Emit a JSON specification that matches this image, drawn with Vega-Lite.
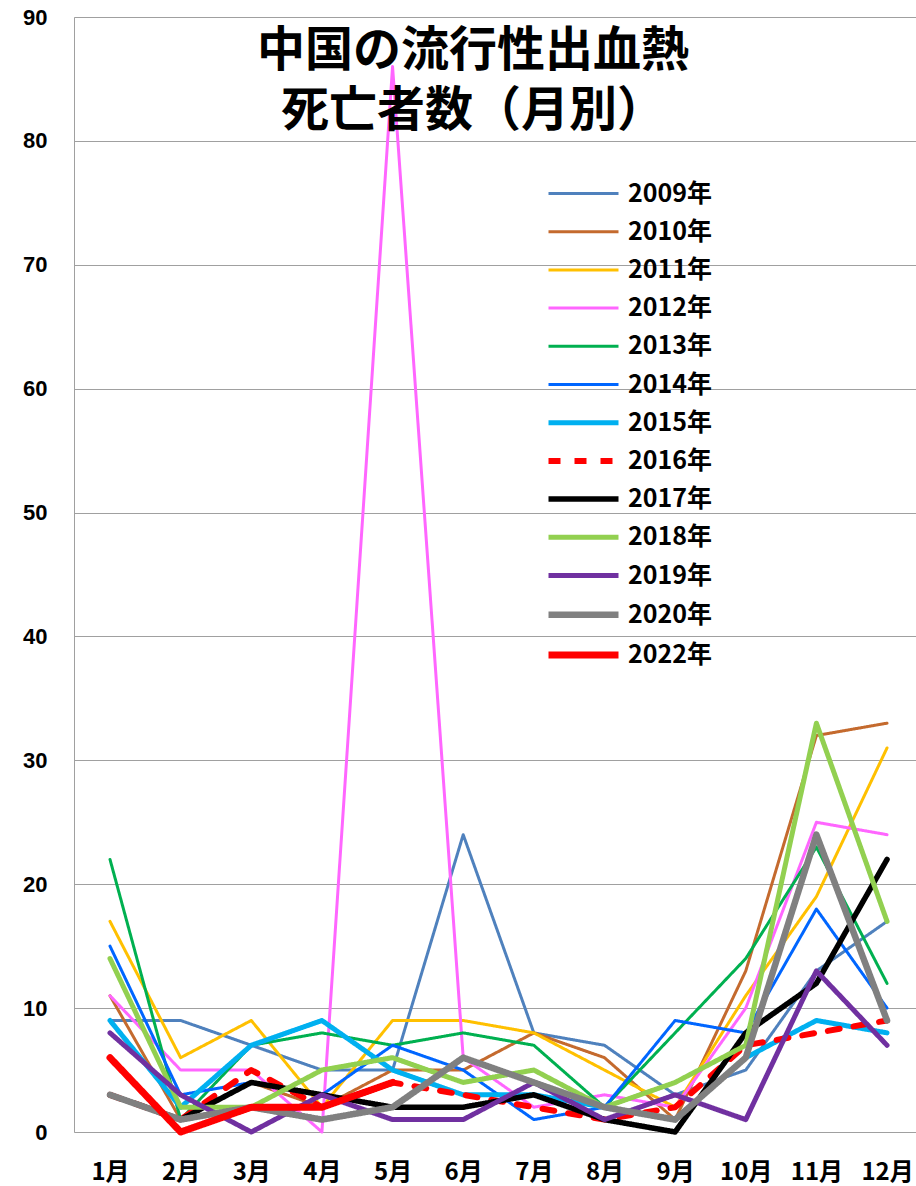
{
  "$schema": "https://vega.github.io/schema/vega-lite/v6.json",
  "autosize": "none",
  "width": 842,
  "height": 1115,
  "padding": {"left": 74, "top": 17, "right": 0, "bottom": 54},
  "background": "white",
  "title": {
    "text": ["中国の流行性出血熱", "死亡者数（月別）"],
    "font": "Noto Sans CJK JP",
    "fontSize": 48,
    "fontWeight": "bold",
    "color": "black",
    "lineHeight": 60,
    "anchor": "middle",
    "frame": "group",
    "baseline": "top",
    "offset": 0,
    "dx": -22,
    "dy": 130
  },
  "datasets": {
    "d": [
      {"y":"2009年","m":1,"v":9},{"y":"2009年","m":2,"v":9},{"y":"2009年","m":3,"v":7},{"y":"2009年","m":4,"v":5},{"y":"2009年","m":5,"v":5},{"y":"2009年","m":6,"v":24},{"y":"2009年","m":7,"v":8},{"y":"2009年","m":8,"v":7},{"y":"2009年","m":9,"v":3},{"y":"2009年","m":10,"v":5},{"y":"2009年","m":11,"v":13},{"y":"2009年","m":12,"v":17},
      {"y":"2010年","m":1,"v":11},{"y":"2010年","m":2,"v":1},{"y":"2010年","m":3,"v":4},{"y":"2010年","m":4,"v":2},{"y":"2010年","m":5,"v":5},{"y":"2010年","m":6,"v":5},{"y":"2010年","m":7,"v":8},{"y":"2010年","m":8,"v":6},{"y":"2010年","m":9,"v":1},{"y":"2010年","m":10,"v":13},{"y":"2010年","m":11,"v":32},{"y":"2010年","m":12,"v":33},
      {"y":"2011年","m":1,"v":17},{"y":"2011年","m":2,"v":6},{"y":"2011年","m":3,"v":9},{"y":"2011年","m":4,"v":2},{"y":"2011年","m":5,"v":9},{"y":"2011年","m":6,"v":9},{"y":"2011年","m":7,"v":8},{"y":"2011年","m":8,"v":5},{"y":"2011年","m":9,"v":2},{"y":"2011年","m":10,"v":11},{"y":"2011年","m":11,"v":19},{"y":"2011年","m":12,"v":31},
      {"y":"2012年","m":1,"v":11},{"y":"2012年","m":2,"v":5},{"y":"2012年","m":3,"v":5},{"y":"2012年","m":4,"v":0},{"y":"2012年","m":5,"v":86},{"y":"2012年","m":6,"v":6},{"y":"2012年","m":7,"v":2},{"y":"2012年","m":8,"v":3},{"y":"2012年","m":9,"v":2},{"y":"2012年","m":10,"v":10},{"y":"2012年","m":11,"v":25},{"y":"2012年","m":12,"v":24},
      {"y":"2013年","m":1,"v":22},{"y":"2013年","m":2,"v":1},{"y":"2013年","m":3,"v":7},{"y":"2013年","m":4,"v":8},{"y":"2013年","m":5,"v":7},{"y":"2013年","m":6,"v":8},{"y":"2013年","m":7,"v":7},{"y":"2013年","m":8,"v":2},{"y":"2013年","m":9,"v":8},{"y":"2013年","m":10,"v":14},{"y":"2013年","m":11,"v":23},{"y":"2013年","m":12,"v":12},
      {"y":"2014年","m":1,"v":15},{"y":"2014年","m":2,"v":3},{"y":"2014年","m":3,"v":4},{"y":"2014年","m":4,"v":3},{"y":"2014年","m":5,"v":7},{"y":"2014年","m":6,"v":5},{"y":"2014年","m":7,"v":1},{"y":"2014年","m":8,"v":2},{"y":"2014年","m":9,"v":9},{"y":"2014年","m":10,"v":8},{"y":"2014年","m":11,"v":18},{"y":"2014年","m":12,"v":10},
      {"y":"2015年","m":1,"v":9},{"y":"2015年","m":2,"v":2},{"y":"2015年","m":3,"v":7},{"y":"2015年","m":4,"v":9},{"y":"2015年","m":5,"v":5},{"y":"2015年","m":6,"v":3},{"y":"2015年","m":7,"v":3},{"y":"2015年","m":8,"v":2},{"y":"2015年","m":9,"v":1},{"y":"2015年","m":10,"v":6},{"y":"2015年","m":11,"v":9},{"y":"2015年","m":12,"v":8},
      {"y":"2016年","m":1,"v":3},{"y":"2016年","m":2,"v":1},{"y":"2016年","m":3,"v":5},{"y":"2016年","m":4,"v":2},{"y":"2016年","m":5,"v":4},{"y":"2016年","m":6,"v":3},{"y":"2016年","m":7,"v":2},{"y":"2016年","m":8,"v":1},{"y":"2016年","m":9,"v":2},{"y":"2016年","m":10,"v":7},{"y":"2016年","m":11,"v":8},{"y":"2016年","m":12,"v":9},
      {"y":"2017年","m":1,"v":3},{"y":"2017年","m":2,"v":1},{"y":"2017年","m":3,"v":4},{"y":"2017年","m":4,"v":3},{"y":"2017年","m":5,"v":2},{"y":"2017年","m":6,"v":2},{"y":"2017年","m":7,"v":3},{"y":"2017年","m":8,"v":1},{"y":"2017年","m":9,"v":0},{"y":"2017年","m":10,"v":8},{"y":"2017年","m":11,"v":12},{"y":"2017年","m":12,"v":22},
      {"y":"2018年","m":1,"v":14},{"y":"2018年","m":2,"v":2},{"y":"2018年","m":3,"v":2},{"y":"2018年","m":4,"v":5},{"y":"2018年","m":5,"v":6},{"y":"2018年","m":6,"v":4},{"y":"2018年","m":7,"v":5},{"y":"2018年","m":8,"v":2},{"y":"2018年","m":9,"v":4},{"y":"2018年","m":10,"v":7},{"y":"2018年","m":11,"v":33},{"y":"2018年","m":12,"v":17},
      {"y":"2019年","m":1,"v":8},{"y":"2019年","m":2,"v":3},{"y":"2019年","m":3,"v":0},{"y":"2019年","m":4,"v":3},{"y":"2019年","m":5,"v":1},{"y":"2019年","m":6,"v":1},{"y":"2019年","m":7,"v":4},{"y":"2019年","m":8,"v":1},{"y":"2019年","m":9,"v":3},{"y":"2019年","m":10,"v":1},{"y":"2019年","m":11,"v":13},{"y":"2019年","m":12,"v":7},
      {"y":"2020年","m":1,"v":3},{"y":"2020年","m":2,"v":1},{"y":"2020年","m":3,"v":2},{"y":"2020年","m":4,"v":1},{"y":"2020年","m":5,"v":2},{"y":"2020年","m":6,"v":6},{"y":"2020年","m":7,"v":4},{"y":"2020年","m":8,"v":2},{"y":"2020年","m":9,"v":1},{"y":"2020年","m":10,"v":6},{"y":"2020年","m":11,"v":24},{"y":"2020年","m":12,"v":9},
      {"y":"2022年","m":1,"v":6},{"y":"2022年","m":2,"v":0},{"y":"2022年","m":3,"v":2},{"y":"2022年","m":4,"v":2},{"y":"2022年","m":5,"v":4}
    ]
  },
  "data": {"name": "d"},
  "mark": {"type": "line", "strokeCap": "round", "strokeJoin": "round"},
  "encoding": {
    "x": {
      "field": "m", "type": "quantitative",
      "scale": {"domain": [0.4903, 12.41], "nice": false, "zero": false},
      "axis": {"title": null, "domain": false, "ticks": false, "grid": false, "labelAngle": 0,
        "values": [1,2,3,4,5,6,7,8,9,10,11,12],
        "labelExpr": "datum.value + '月'",
        "labelFlush": false, "labelOverlap": false,
        "labelFont": "Noto Sans CJK JP", "labelFontSize": 24, "labelFontWeight": "bold", "labelColor": "black", "labelPadding": 28}
    },
    "y": {
      "field": "v", "type": "quantitative",
      "scale": {"domain": [0, 90], "nice": false},
      "axis": {"title": null, "values": [0,10,20,30,40,50,60,70,80,90], "ticks": false,
        "domain": true, "domainColor": "#a0a0a0", "domainWidth": 1,
        "grid": true, "gridColor": "#a0a0a0", "gridWidth": 1,
        "labelFont": "Liberation Sans", "labelFontSize": 22, "labelFontWeight": "bold", "labelColor": "black", "labelPadding": 27}
    },
    "color": {
      "field": "y", "type": "nominal",
      "scale": {
        "domain": ["2009年","2010年","2011年","2012年","2013年","2014年","2015年","2016年","2017年","2018年","2019年","2020年","2022年"],
        "range": ["#4F81BD","#C46A2E","#FFC000","#FF66FF","#00B050","#0066FF","#00B0F0","#FF0000","#000000","#92D050","#7030A0","#808080","#FF0000"]
      },
      "legend": {
        "orient": "none", "legendX": 497, "legendY": 164, "title": null,
        "symbolType": "M-4,0H4", "symbolSize": 306.25, "rowPadding": 12.2,
        "labelFont": "Noto Sans CJK JP", "labelFontSize": 25, "labelFontWeight": "bold", "labelColor": "black", "labelOffset": 32
      }
    },
    "strokeDash": {
      "field": "y", "type": "nominal",
      "scale": {
        "domain": ["2009年","2010年","2011年","2012年","2013年","2014年","2015年","2016年","2017年","2018年","2019年","2020年","2022年"],
        "range": [[1,0],[1,0],[1,0],[1,0],[1,0],[1,0],[1,0],[12,14],[1,0],[1,0],[1,0],[1,0],[1,0]]
      }
    },
    "strokeWidth": {
      "field": "y", "type": "nominal",
      "scale": {
        "type": "ordinal",
        "domain": ["2009年","2010年","2011年","2012年","2013年","2014年","2015年","2016年","2017年","2018年","2019年","2020年","2022年"],
        "range": [3,3,3,3,3,3,5,6,5.5,5,5,6.5,7]
      }
    }
  }
}
